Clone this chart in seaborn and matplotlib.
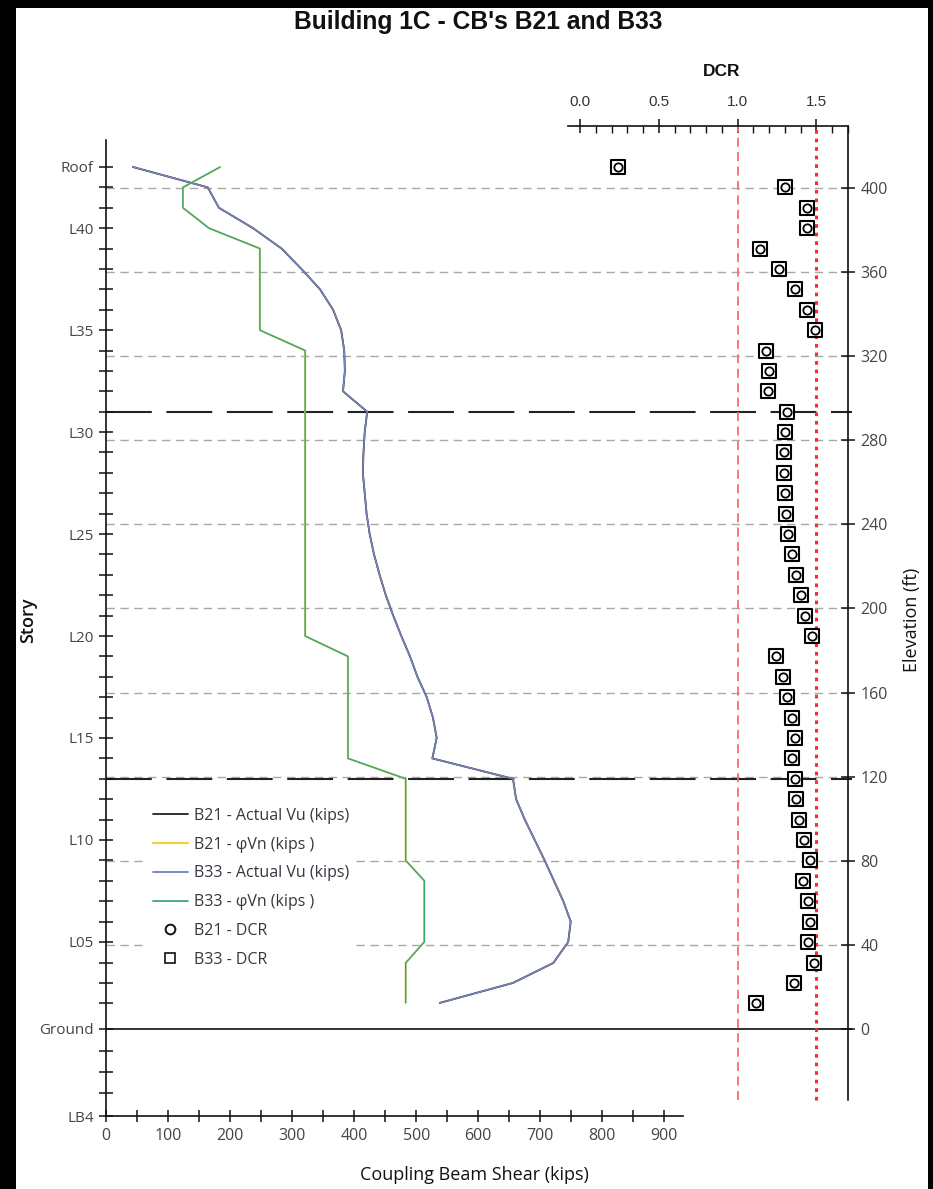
import numpy as np
import pandas as pd
import matplotlib
matplotlib.use("Agg")
import matplotlib.pyplot as plt
import seaborn as sns
from matplotlib.lines import Line2D
from matplotlib.patches import Rectangle

# ---------------- data ----------------
levels = ["L02", "L03", "L04", "L05", "L06", "L07", "L08", "L09", "L10", "L11",
          "L12", "L13", "L14", "L15", "L16", "L17", "L18", "L19", "L20", "L21",
          "L22", "L23", "L24", "L25", "L26", "L27", "L28", "L29", "L30", "L31",
          "L32", "L33", "L34", "L35", "L36", "L37", "L38", "L39", "L40", "L41",
          "L42", "Roof"]
elev_ft = [12.4, 21.9, 31.4, 41.4, 51.1, 60.8, 70.5, 80.2, 89.9, 99.6,
           109.3, 119.0, 128.7, 138.4, 148.1, 157.8, 167.5, 177.2, 186.9, 196.6,
           206.3, 216.0, 225.7, 235.4, 245.1, 254.8, 264.5, 274.2, 283.9, 293.6,
           303.3, 313.0, 322.7, 332.4, 342.1, 351.8, 361.5, 371.2, 380.9, 390.6,
           400.3, 410.0]
lower_levels = ["Ground", "LB1", "LB2", "LB3", "LB4"]
lower_elev_ft = [0.0, -10.4, -20.4, -30.4, -41.4]

b33_vu = [538, 656, 721, 745, 749, 737, 722, 707, 691, 675,
          661, 656, 526, 533, 527, 517, 502, 490, 476, 463,
          451, 441, 432, 425, 420, 417, 414, 415, 417, 421,
          382, 385, 384, 379, 366, 345, 315, 283, 237, 182,
          164, 43.5]
b33_phivn = [483, 483, 483, 513, 513, 513, 513, 483, 483, 483,
             483, 483, 390, 390, 390, 390, 390, 390, 321, 321,
             321, 321, 321, 321, 321, 321, 321, 321, 321, 321,
             321, 321, 321, 248, 248, 248, 248, 248, 166, 124,
             124, 184]
b21_vu = list(b33_vu)
b21_phivn = list(b33_phivn)
b33_dcr = [1.114, 1.358, 1.487, 1.449, 1.462, 1.445, 1.415, 1.462, 1.424, 1.388,
           1.367, 1.361, 1.344, 1.361, 1.344, 1.314, 1.285, 1.245, 1.470, 1.430,
           1.399, 1.369, 1.344, 1.320, 1.308, 1.300, 1.293, 1.293, 1.300, 1.312,
           1.192, 1.198, 1.183, 1.490, 1.437, 1.361, 1.264, 1.144, 1.437, 1.437,
           1.300, 0.240]
b21_dcr = list(b33_dcr)

labeled_levels = ["Roof", "L40", "L35", "L30", "L25", "L20", "L15", "L10", "L05", "Ground", "LB4"]
transfer_elev_ft = [119.0, 293.6]
elev_ticks = [0, 40, 80, 120, 160, 200, 240, 280, 320, 360, 400]
shear_ticks = [0, 100, 200, 300, 400, 500, 600, 700, 800, 900]
dcr_ticks = [0.0, 0.5, 1.0, 1.5]
dcr_limits = [1.0, 1.5]

df = pd.DataFrame({"level": levels, "elev": elev_ft,
                   "b21_vu": b21_vu, "b21_phivn": b21_phivn,
                   "b33_vu": b33_vu, "b33_phivn": b33_phivn,
                   "b21_dcr": b21_dcr, "b33_dcr": b33_dcr})

# ---------------- figure ----------------
sns.set_theme(style="white")
plt.rcParams['font.family'] = ['Open Sans', 'DejaVu Sans']
W, H = 933, 1189
fig = plt.figure(figsize=(W / 100, H / 100), dpi=100)
fig.patch.set_facecolor("black")
fig.add_artist(Rectangle((16 / W, 0), (928 - 16) / W, (H - 8) / H,
                         transform=fig.transFigure, facecolor="white",
                         edgecolor="none", zorder=-10))

def fx(px):
    return px / W

def fy(py):
    return 1 - py / H

bot = fy(1116)
hgt = (1116 - 126) / H
ylim = (-41.4, 429.5)

ax_bg = fig.add_axes([fx(106), bot, (852 - 106) / W, hgt])
ax_a = fig.add_axes([fx(106), bot, (683 - 106) / W, hgt])
ax_b = fig.add_axes([fx(568), bot, (848 - 568) / W, hgt])
for ax in (ax_bg, ax_a, ax_b):
    ax.set_facecolor("none")
    ax.set_ylim(*ylim)

# background horizontal lines
ax_bg.set_xlim(0, 1)
ax_bg.axis("off")
for e in elev_ticks[1:]:
    ax_bg.axhline(e, xmin=0, xmax=(848 - 106) / (852 - 106), color="#a8a8a8",
                  lw=1.0, ls=(0, (6, 4)))
for e in transfer_elev_ft:
    ax_bg.axhline(e, color="#222222", lw=1.5, ls=(0, (22, 7)))
ax_bg.axhline(0, color="#111111", lw=1.2)

# shear lines
tick_col = "#454545"
ax_a.set_xlim(0, 930)
sns.lineplot(data=df, x="b21_vu", y="elev", sort=False, estimator=None, ax=ax_a,
             color="#222222", lw=1.3, zorder=3)
sns.lineplot(data=df, x="b21_phivn", y="elev", sort=False, estimator=None, ax=ax_a,
             color="#d8d27a", lw=1.5, zorder=3)
sns.lineplot(data=df, x="b33_vu", y="elev", sort=False, estimator=None, ax=ax_a,
             color="#7884bb", lw=1.1, zorder=4)
sns.lineplot(data=df, x="b33_phivn", y="elev", sort=False, estimator=None, ax=ax_a,
             color="#35a86e", lw=1.0, zorder=4)

for s in ("top", "right"):
    ax_a.spines[s].set_visible(False)
for s in ("left", "bottom"):
    ax_a.spines[s].set_color("#111111")
    ax_a.spines[s].set_linewidth(1.2)
ax_a.spines["left"].set_bounds(-41.4, 422.8)

story_ticks = list(elev_ft) + list(lower_elev_ft)
story_names = list(levels) + list(lower_levels)
story_labels = [n if n in labeled_levels else "" for n in story_names]
ax_a.set_yticks(story_ticks)
ax_a.set_yticklabels(story_labels)
ax_a.set_xticks(np.arange(0, 950, 50))
ax_a.set_xticklabels([str(int(v)) if v in shear_ticks else "" for v in np.arange(0, 950, 50)])
ax_a.tick_params(axis="y", direction="inout", length=9.5, width=1.1, color="#111111",
                 labelsize=11, labelcolor=tick_col, pad=4, left=True)
ax_a.tick_params(axis="x", direction="inout", length=8, width=1.1, color="#111111",
                 labelsize=11.5, labelcolor=tick_col, pad=5, bottom=True)
ax_a.set_xlabel("")
ax_a.set_ylabel("")

# DCR axis
ax_b.set_xlim(-0.076, 1.696)
ax_b.vlines(dcr_limits[0], -34, ylim[1], color="#ff6a6a", lw=1.3, ls=(0, (5, 3)), zorder=2)
ax_b.vlines(dcr_limits[1], -34, ylim[1], color="#ff2a2a", lw=2.2, ls=(0, (1.2, 1.6)), zorder=2)
sns.scatterplot(data=df, x="b33_dcr", y="elev", marker="s", s=90, color="white",
                edgecolor="black", linewidth=1.5, ax=ax_b, zorder=5)
sns.scatterplot(data=df, x="b21_dcr", y="elev", marker="o", s=36, color="white",
                edgecolor="black", linewidth=1.3, ax=ax_b, zorder=6)
for s in ("bottom", "left"):
    ax_b.spines[s].set_visible(False)
for s in ("top", "right"):
    ax_b.spines[s].set_color("#111111")
    ax_b.spines[s].set_linewidth(1.2)
ax_b.spines["right"].set_bounds(-34, ylim[1])
ax_b.xaxis.tick_top()
ax_b.set_xticks(dcr_ticks)
ax_b.set_xticklabels([f"{v:.1f}" for v in dcr_ticks])
ax_b.set_xticks(np.arange(0, 1.75, 0.1), minor=True)
ax_b.tick_params(axis="x", which="major", direction="inout", length=10, width=1.1,
                 color="#111111", labelsize=11, labelcolor="#333333", pad=7,
                 top=True, bottom=False, labelfontfamily="Liberation Sans")
ax_b.tick_params(axis="x", which="minor", direction="in", length=5, width=1.0,
                 color="#111111", top=True, bottom=False)
ax_b.yaxis.tick_right()
ax_b.set_yticks(elev_ticks)
ax_b.set_yticklabels([str(v) for v in elev_ticks])
ax_b.tick_params(axis="y", direction="inout", length=10, width=1.1, color="#111111",
                 labelsize=11.5, labelcolor=tick_col, pad=4, right=True, left=False)
ax_b.set_xlabel("")
ax_b.set_ylabel("")

# legend
handles = [
    Line2D([], [], color="#222222", lw=1.3, label="B21 - Actual Vu (kips)"),
    Line2D([], [], color="#f2d23a", lw=1.6, label="B21 - φVn (kips )"),
    Line2D([], [], color="#6f80c4", lw=1.3, label="B33 - Actual Vu (kips)"),
    Line2D([], [], color="#3aa874", lw=1.3, label="B33 - φVn (kips )"),
    Line2D([], [], marker="o", ls="none", ms=7, mfc="white", mec="#111111", mew=1.4,
           label="B21 - DCR"),
    Line2D([], [], marker="s", ls="none", ms=7.5, mfc="white", mec="#111111", mew=1.2,
           label="B33 - DCR"),
]
leg = ax_a.legend(handles=handles, loc="upper left",
                  bbox_to_anchor=(fx(140), fy(795)), bbox_transform=fig.transFigure,
                  frameon=True, fontsize=11.5, labelspacing=0.8, handlelength=2.2,
                  handletextpad=0.35, borderpad=0.3, labelcolor="#3c3340")
leg.get_frame().set_facecolor("white")
leg.get_frame().set_edgecolor("white")
leg.get_frame().set_alpha(1)
leg.set_zorder(10)

# texts
fig.text(fx(478), fy(22), "Building 1C - CB's B21 and B33", ha="center", va="center",
         fontsize=17.7, fontweight="bold", family=["Liberation Sans Narrow", "Liberation Sans"],
         color="#111111")
fig.text(fx(722), fy(72), "DCR", ha="center", va="center", fontsize=12.5,
         fontweight="bold", family=["Liberation Sans Narrow", "Liberation Sans"], color="#111111")
fig.text(fx(474), fy(1175), "Coupling Beam Shear (kips)", ha="center", va="center",
         fontsize=13, color="#111111")
fig.text(fx(28), fy(620), "Story", ha="center", va="center", rotation=90,
         fontsize=13, fontweight="semibold", color="#111111")
fig.text(fx(912), fy(620), "Elevation (ft)", ha="center", va="center", rotation=90,
         fontsize=13, color="#111111")

fig.savefig("out.png", dpi=100, facecolor=fig.get_facecolor())
